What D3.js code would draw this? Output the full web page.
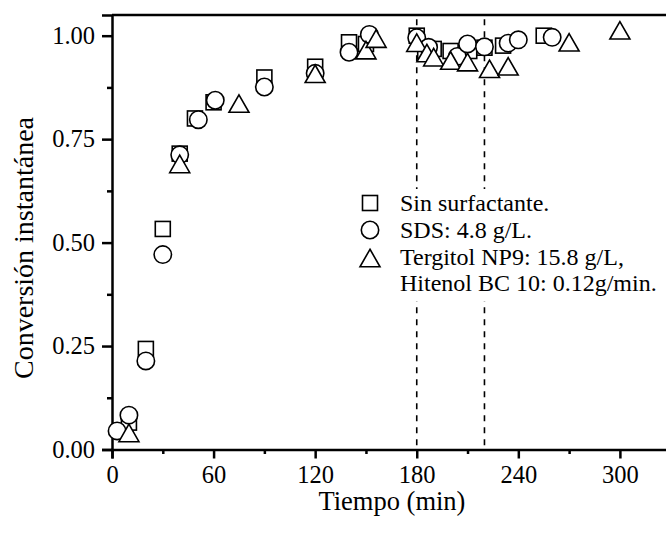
<!DOCTYPE html>
<html>
<head>
<meta charset="utf-8">
<script src="https://cdn.jsdelivr.net/npm/d3@7"></script>
<style>
  html, body { margin: 0; padding: 0; background: #fff; }
  svg { display: block; }
  text { font-family: "Liberation Serif", "Times New Roman", serif; fill: #000; }
</style>
</head>
<body>
<svg id="chart" width="666" height="536"></svg>
<script>
// Sin surfactante
const timeSin = [10, 20, 30, 40, 49, 60, 90, 120, 140, 150, 180, 185, 190, 200, 211, 220, 231, 255];
const convSin = [0.065, 0.243, 0.533, 0.715, 0.80, 0.839, 0.899, 0.925, 0.984, 0.98, 1.0, 0.963, 0.968, 0.963, 0.963, 0.971, 0.976, 1.0];

// SDS: 4.8 g/L
const timeSDS = [3, 10, 20, 30, 40, 51, 61, 90, 120, 140, 152, 180, 187, 204, 210, 220, 234, 240, 260];
const convSDS = [0.045, 0.083, 0.214, 0.471, 0.712, 0.797, 0.844, 0.876, 0.909, 0.96, 1.003, 0.995, 0.972, 0.95, 0.98, 0.973, 0.982, 0.99, 0.996];

// Tergitol NP9 + Hitenol BC 10
const timeTerg = [10, 40, 75, 120, 150, 156, 180, 186, 190, 200, 210, 223, 234, 270, 300];
const convTerg = [0.04, 0.69, 0.836, 0.908, 0.965, 0.993, 0.983, 0.958, 0.948, 0.94, 0.936, 0.92, 0.926, 0.984, 1.013];

const xTicks = [0, 60, 120, 180, 240, 300];
const yTicks = [0, 0.25, 0.5, 0.75, 1.0];
const markerLines = [180, 220];

const legendLabels = ["Sin surfactante.", "SDS: 4.8 g/L.", "Tergitol NP9: 15.8 g/L,", "Hitenol BC 10: 0.12g/min."];

const svg = d3.select("#chart");
const plotLeft = 112, plotRight = 669, plotTop = 15, plotBottom = 449.5;

const x = d3.scaleLinear().domain([0, 329]).range([plotLeft, plotRight]);
const y = d3.scaleLinear().domain([0, 1.05]).range([plotBottom, plotTop]);

// frame (top and right)
svg.append("path")
  .attr("d", `M${plotLeft},${plotTop}H${plotRight}V${plotBottom}`)
  .attr("fill", "none").attr("stroke", "#000").attr("stroke-width", 2.5);

// dashed guides
svg.selectAll("line.guide").data(markerLines).join("line")
  .attr("class", "guide")
  .attr("x1", d => x(d)).attr("x2", d => x(d))
  .attr("y1", y(1.04)).attr("y2", plotBottom)
  .attr("stroke", "#000").attr("stroke-width", 1.6)
  .attr("stroke-dasharray", "6,6");

// axes
const xAxis = d3.axisBottom(x).tickValues(xTicks).tickFormat(d3.format("d")).tickSize(9).tickPadding(7);
const xMinor = d3.axisBottom(x).tickValues(d3.range(30, 330, 60)).tickFormat("").tickSize(4.5);
const yAxis = d3.axisLeft(y).tickValues(yTicks).tickFormat(d3.format(".2f")).tickSize(10).tickPadding(7);
const yMinor = d3.axisLeft(y).tickValues([0.125, 0.375, 0.625, 0.875]).tickFormat("").tickSize(5);

function styleAxis(g) {
  g.select(".domain").attr("stroke-width", 2.5);
  g.selectAll(".tick line").attr("stroke-width", 2.5);
  g.selectAll(".tick text").style("font-family", "'Liberation Serif', 'Times New Roman', serif")
    .style("font-size", "24.5px").attr("fill", "#000");
}

svg.append("g").attr("transform", `translate(0,${plotBottom})`).call(xMinor).call(styleAxis).select(".domain").remove();
svg.append("g").attr("transform", `translate(${plotLeft},0)`).call(yMinor).call(styleAxis).select(".domain").remove();
svg.append("g").attr("transform", `translate(0,${plotBottom})`).call(xAxis).call(styleAxis);
svg.append("g").attr("transform", `translate(${plotLeft},0)`).call(yAxis).call(styleAxis);

// axis titles
svg.append("text")
  .attr("x", (x(0) + x(300)) / 2 + 26).attr("y", 510)
  .attr("text-anchor", "middle").style("font-size", "26.5px")
  .text("Tiempo (min)");
svg.append("text")
  .attr("transform", `translate(33,248) rotate(-90)`)
  .attr("text-anchor", "middle").style("font-size", "28px")
  .text("Conversión instantánea");

// marker shapes
const sq = 15, cr = 8.7, tw = 20, th = 17.5;
function drawMarker(g, shape) {
  if (shape === "square") {
    g.append("rect").attr("x", -sq / 2).attr("y", -sq / 2).attr("width", sq).attr("height", sq);
  } else if (shape === "circle") {
    g.append("circle").attr("r", cr);
  } else {
    g.append("path").attr("d", `M0,${-th / 2}L${tw / 2},${th / 2}L${-tw / 2},${th / 2}Z`);
  }
  g.selectAll("*").attr("fill", "#fff").attr("stroke", "#000").attr("stroke-width", 1.6);
}

const series = [
  { t: timeSin, v: convSin, shape: "square" },
  { t: timeSDS, v: convSDS, shape: "circle" },
  { t: timeTerg, v: convTerg, shape: "triangle" }
];

series.forEach(s => {
  const pts = s.t.map((t, i) => [t, s.v[i]]);
  svg.append("g").selectAll("g").data(pts).join("g")
    .attr("transform", d => `translate(${x(d[0])},${y(d[1])})`)
    .each(function () { drawMarker(d3.select(this), s.shape); });
});

// legend on a white panel
svg.append("rect").attr("x", 355).attr("y", 189).attr("width", 309).attr("height", 112)
  .attr("fill", "#fff");
const legX = 370, legTextX = 400, legMarkY = [203, 230, 258];
series.forEach((s, i) => {
  const g = svg.append("g").attr("transform", `translate(${legX},${legMarkY[i]})`);
  drawMarker(g, s.shape);
});
const legBase = [211, 238, 265, 291];
legendLabels.forEach((lab, i) => {
  svg.append("text").attr("x", legTextX).attr("y", legBase[i])
    .style("font-size", "24px").text(lab);
});
</script>
</body>
</html>
